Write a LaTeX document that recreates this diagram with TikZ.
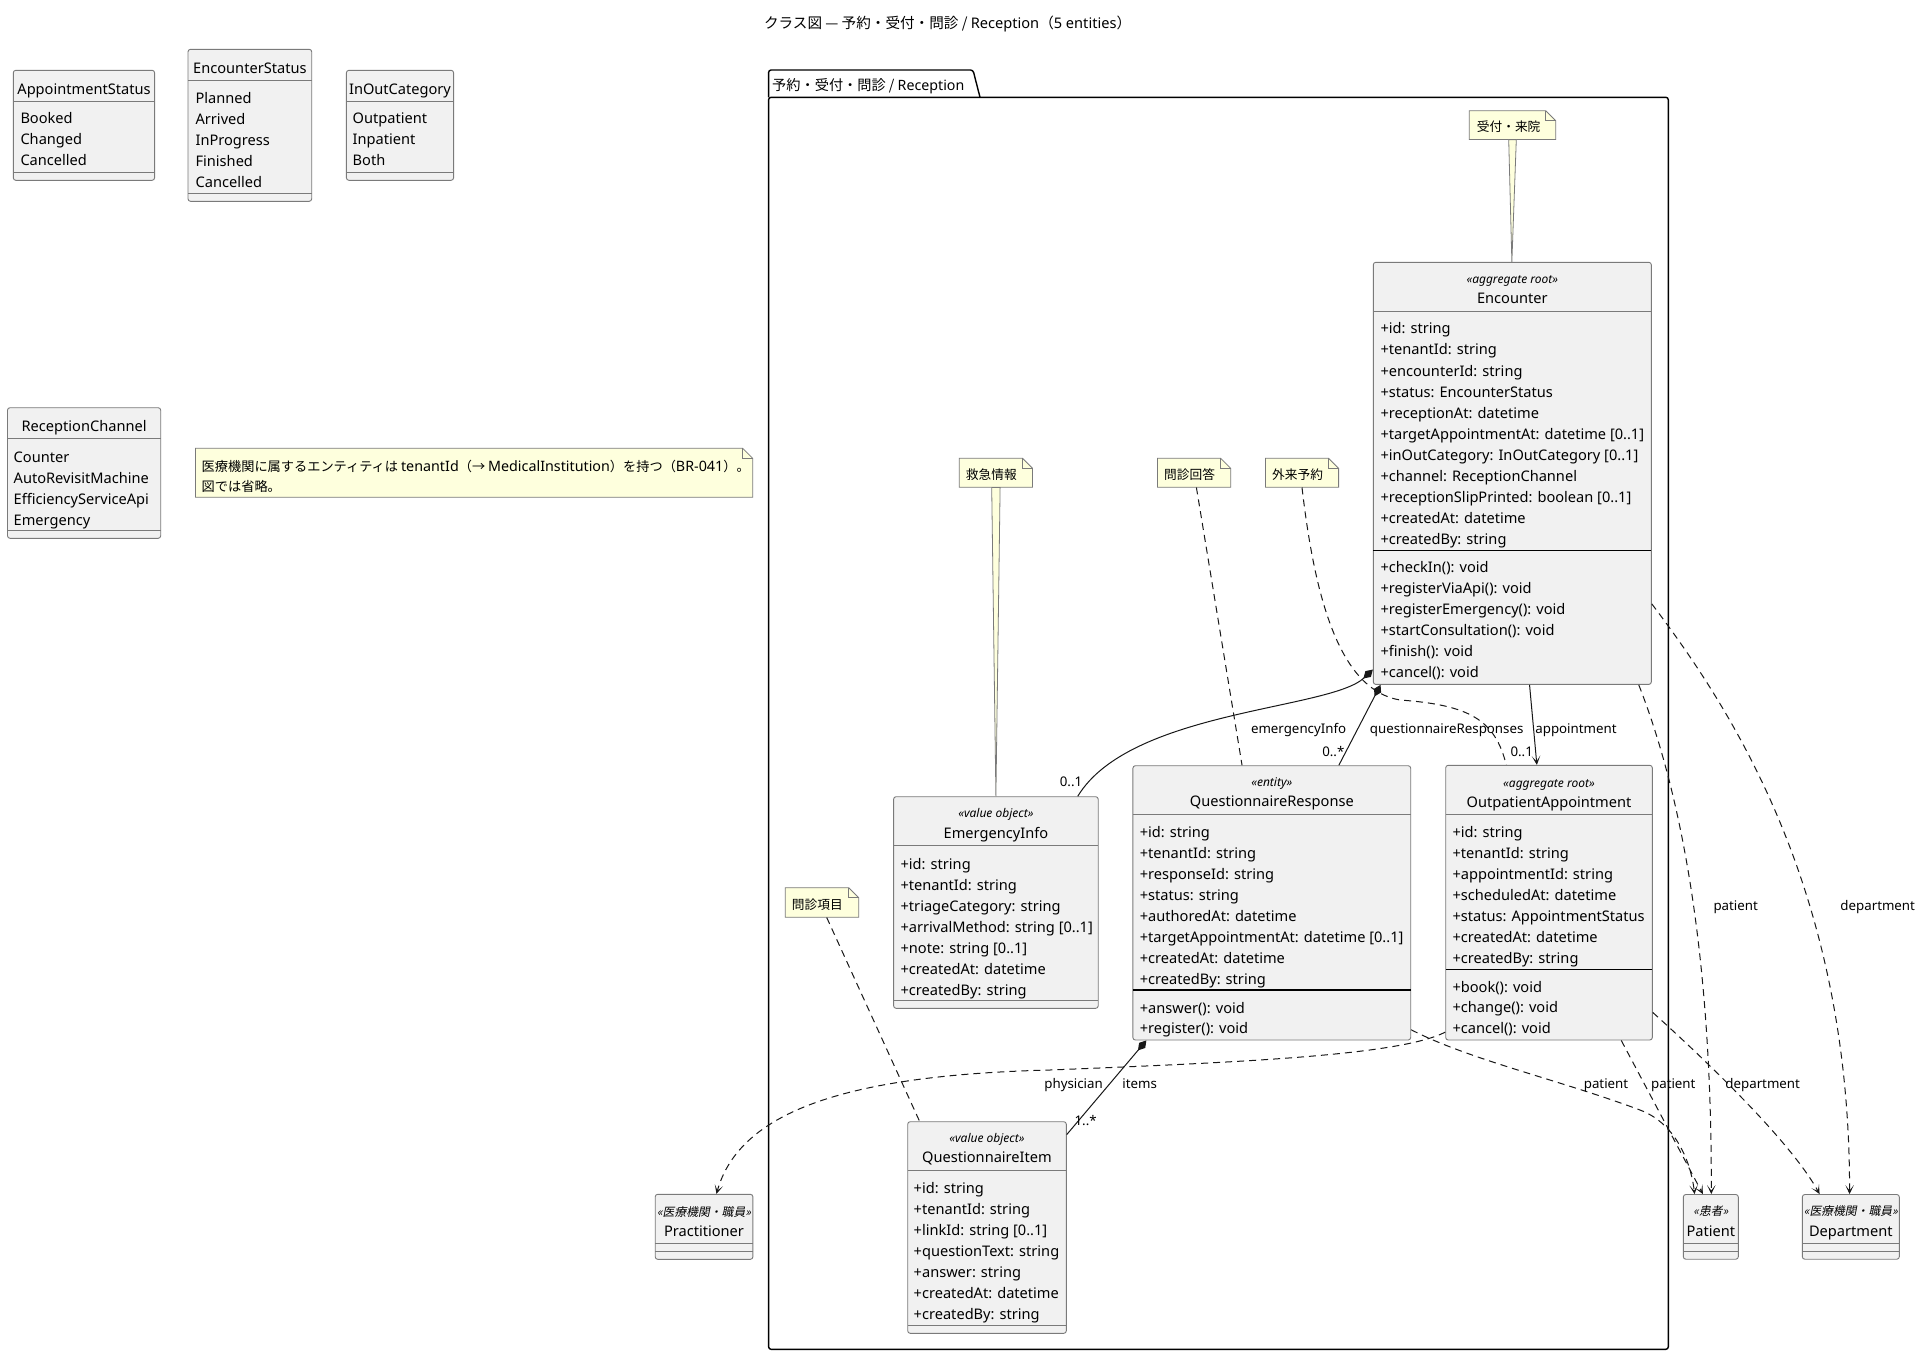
\documentclass[tikz,border=0pt]{standalone}
\usepackage{fontspec}
\setmainfont{Noto Sans}
\newfontfamily\cjk{Noto Sans CJK JP}
\newfontfamily\lat{Noto Sans}
\newfontfamily\cjkit{Noto Sans CJK JP}[FakeSlant=0.2]
\usetikzlibrary{arrows.meta,calc,fit}
\definecolor{clsfill}{HTML}{F1F1F1}
\definecolor{lgray}{HTML}{7A7A7A}
\definecolor{notefill}{HTML}{FEFFDD}
\definecolor{ink}{HTML}{181818}
\tikzset{
  cls/.style={draw=lgray, fill=clsfill, rounded corners=2.5pt, line width=0.9pt, inner sep=0pt},
  hsep/.style={draw=lgray, line width=0.9pt},
  msep/.style={draw=black, line width=1.1pt},
  attr/.style={anchor=west, inner sep=0pt, text height=13pt, text depth=3pt, font=\fontsize{14.6}{17}\selectfont},
  cname/.style={anchor=center, inner sep=0pt, text height=13pt, text depth=3pt, font=\fontsize{14.6}{17}\selectfont},
  stereo/.style={anchor=center, inner sep=0pt, text height=10pt, text depth=2.5pt, font=\fontsize{12}{14}\selectfont\itshape},
  cjkstereo/.style={anchor=center, inner sep=0pt, text height=10pt, text depth=2.5pt, font=\fontsize{11.8}{14}\selectfont\cjkit},
  elabel/.style={anchor=center, inner sep=0pt, text height=12pt, text depth=3pt, font=\fontsize{13.3}{16}\selectfont},
  notetxt/.style={anchor=west, inner sep=0pt, text height=11pt, text depth=2pt, font=\fontsize{12.7}{15}\selectfont\cjk},
  notebox/.style={draw=lgray, fill=notefill, line width=0.8pt},
  conn/.style={draw=ink, line width=1pt},
  dep/.style={conn, dash pattern=on 7pt off 5pt},
  arr/.style={-{Stealth[length=9pt,width=8.5pt,inset=5.5pt]}},
  comp/.style={{Diamond[length=13pt,width=8pt]}-},
}
\newcommand\umlbox[5]{\node[cls, fit={(#2,#3)(#4,#5)}] (#1) {};}
\newcommand\sepline[3]{\draw[hsep] (#1,#3) -- (#2,#3);}
\newcommand\mline[3]{\draw[msep] (#1,#3) -- (#2,#3);}
\newcommand\attrlist[5]{\foreach \itm [count=\i from 0] in {#5} {\node[attr] (#1-\i) at (#2,{#3+\i*#4}) {\itm};}}
\newcommand\umlnote[5]{%
  \node[fit={(#2,#3)(#4,#5)}, inner sep=0pt] (#1) {};
  \draw[notebox] (#2,#3) -- ({#4-10},#3) -- (#4,{#3+10}) -- (#4,#5) -- (#2,#5) -- cycle;
  \draw[notebox, fill=none] ({#4-10},#3) -- ({#4-10},{#3+10}) -- (#4,{#3+10});
}
\newcommand\wlat[1]{{\lat\fontsize{14.3}{15}\selectfont #1}}
\begin{document}
\begin{tikzpicture}[x=1pt,y=-1pt]
\useasboundingbox (0,0) rectangle (1922,1355);
\fill[white] (0,0) rectangle (1922,1355);

% title
\node[font=\fontsize{14.6}{17}\selectfont\cjk, inner sep=0pt] (title) at (947.6,24) {クラス図 — 予約・受付・問診 / {\lat Reception}（{\lat 5 entities}）};

% ---------- enums ----------
\umlbox{apst}{13.3}{70.3}{154.6}{180.3}
\node[cname] (apst-h) at (84,89.3) {AppointmentStatus};
\sepline{13.3}{154.6}{101.7}
\attrlist{apst-a}{20.3}{118}{21}{{Booked},{Changed},{Cancelled}}
\sepline{13.3}{154.6}{172.3}

\umlbox{enst}{188}{49.3}{311.7}{201.3}
\node[cname] (enst-h) at (249.9,68.3) {EncounterStatus};
\sepline{188}{311.7}{80.3}
\attrlist{enst-a}{195.4}{98.3}{21}{{Planned},{Arrived},{InProgress},{Finished},{Cancelled}}
\sepline{188}{311.7}{193.3}

\umlbox{ioc}{346.4}{70.3}{453.6}{180.3}
\node[cname] (ioc-h) at (400,89.3) {InOutCategory};
\sepline{346.4}{453.6}{101.7}
\attrlist{ioc-a}{352.5}{118}{21}{{Outpatient},{Inpatient},{Both}}
\sepline{346.4}{453.6}{172.3}

\umlbox{rch}{7.5}{407.7}{160.7}{538.3}
\node[cname] (rch-h) at (84.1,426.7) {ReceptionChannel};
\sepline{7.5}{160.7}{438.3}
\attrlist{rch-a}{13.5}{457.3}{20.9}{{Counter},{AutoRevisitMachine},{EfficiencyServiceApi},{Emergency}}
\sepline{7.5}{160.7}{530.7}

% tenant note
\umlnote{nT}{195.5}{448.3}{752.7}{497.3}
\node[notetxt, font=\fontsize{13.2}{15}\selectfont\cjk] (nT-1) at (201.5,467.3) {医療機関に属するエンティティは \wlat{tenantId}（→ \wlat{MedicalInstitution}）を持つ（\wlat{BR-041}）。};
\node[notetxt, font=\fontsize{13.2}{15}\selectfont\cjk] (nT-2) at (201.5,487.3) {図では省略。};

% ---------- package ----------
\node[fit={(768.6,70)(1668.3,1349.3)}, inner sep=0pt] (pkg) {};
\draw[line width=1.4pt, rounded corners=2.5pt] (768.6,97.3) -- (768.6,70) -- (973,70) -- (980,97.3);
\draw[line width=1.4pt, rounded corners=2.5pt] (768.6,97.3) rectangle (1668.3,1349.3);
\node[anchor=west, inner sep=0pt, font=\fontsize{14.2}{17}\selectfont\cjk] (pkg-l) at (772,86.5) {予約・受付・問診 / {\lat Reception}};

% ---------- classes ----------
% Encounter
\umlbox{enc}{1373.3}{262.3}{1651.3}{684.4}
\node[stereo] (enc-s) at (1512.3,279.9) {«aggregate root»};
\node[cname] (enc-n) at (1512.3,298.2) {Encounter};
\sepline{1373.3}{1651.3}{311.3}
\attrlist{enc-a}{1380.3}{328.9}{21.05}{{+id: string},{+tenantId: string},{+encounterId: string},{+status: EncounterStatus},{+receptionAt: datetime},{+targetAppointmentAt: datetime [0..1]},{+inOutCategory: InOutCategory [0..1]},{+channel: ReceptionChannel},{+receptionSlipPrinted: boolean [0..1]},{+createdAt: datetime},{+createdBy: string}}
\mline{1373.3}{1651.3}{550.8}
\attrlist{enc-m}{1380.3}{567.7}{21.05}{{+checkIn(): void},{+registerViaApi(): void},{+registerEmergency(): void},{+startConsultation(): void},{+finish(): void},{+cancel(): void}}

% EmergencyInfo
\umlbox{emg}{893.6}{796.7}{1098.2}{1008.3}
\node[stereo] (emg-s) at (995.9,813.3) {«value object»};
\node[cname] (emg-n) at (995.9,833.3) {EmergencyInfo};
\sepline{893.6}{1098.2}{845.7}
\attrlist{emg-a}{900.4}{864.3}{20.95}{{+id: string},{+tenantId: string},{+triageCategory: string},{+arrivalMethod: string [0..1]},{+note: string [0..1]},{+createdAt: datetime},{+createdBy: string}}
\sepline{893.6}{1098.2}{1000.3}

% QuestionnaireResponse
\umlbox{qr}{1132.9}{765.7}{1410.7}{1040}
\node[stereo] (qr-s) at (1271.8,782.7) {«entity»};
\node[cname] (qr-n) at (1271.8,801.7) {QuestionnaireResponse};
\sepline{1132.9}{1410.7}{814}
\attrlist{qr-a}{1139.6}{832}{21}{{+id: string},{+tenantId: string},{+responseId: string},{+status: string},{+authoredAt: datetime},{+targetAppointmentAt: datetime [0..1]},{+createdAt: datetime},{+createdBy: string}}
\mline{1132.9}{1410.7}{990}
\attrlist{qr-m}{1139.6}{1008}{20.7}{{+answer(): void},{+register(): void}}

% OutpatientAppointment
\umlbox{oa}{1445.7}{765.3}{1652.3}{1040}
\node[stereo] (oa-s) at (1549,783.3) {«aggregate root»};
\node[cname] (oa-n) at (1549,802) {OutpatientAppointment};
\sepline{1445.7}{1652.3}{814.7}
\attrlist{oa-a}{1452.3}{832}{21.05}{{+id: string},{+tenantId: string},{+appointmentId: string},{+scheduledAt: datetime},{+status: AppointmentStatus},{+createdAt: datetime},{+createdBy: string}}
\mline{1445.7}{1652.3}{969.3}
\attrlist{oa-m}{1452.3}{987}{20.85}{{+book(): void},{+change(): void},{+cancel(): void}}

% QuestionnaireItem
\umlbox{qi}{907.7}{1121.7}{1066.3}{1333.3}
\node[stereo] (qi-s) at (987,1138.3) {«value object»};
\node[cname] (qi-n) at (987,1157.7) {QuestionnaireItem};
\sepline{907.7}{1066.3}{1170.7}
\attrlist{qi-a}{913.5}{1188}{21}{{+id: string},{+tenantId: string},{+linkId: string [0..1]},{+questionText: string},{+answer: string},{+createdAt: datetime},{+createdBy: string}}
\sepline{907.7}{1066.3}{1325.7}

% external
\umlbox{prac}{655.2}{1194.3}{752.9}{1259.3}
\node[cjkstereo] (prac-s) at (704,1212.3) {«医療機関・職員»};
\node[cname] (prac-n) at (704,1231.7) {Practitioner};
\sepline{655.2}{752.9}{1243.3}
\sepline{655.2}{752.9}{1251.3}

\umlbox{pat}{1683.3}{1194.5}{1738.3}{1259.2}
\node[cjkstereo] (pat-s) at (1710.8,1211.4) {«患者»};
\node[cname] (pat-n) at (1710.8,1231.4) {Patient};
\sepline{1683.3}{1738.3}{1243.5}
\sepline{1683.3}{1738.3}{1251.3}

\umlbox{dept}{1802.3}{1194.5}{1899.3}{1259.2}
\node[cjkstereo] (dept-s) at (1850.8,1211.4) {«医療機関・職員»};
\node[cname] (dept-n) at (1850.8,1231.4) {Department};
\sepline{1802.3}{1899.3}{1243.5}
\sepline{1802.3}{1899.3}{1251.3}

% ---------- notes ----------
\umlnote{nA}{1469.3}{110.7}{1555.7}{139.4}
\node[notetxt] (nA-t) at (1476.7,127) {受付・来院};
\umlnote{nB}{959.3}{458.3}{1032.5}{487.3}
\node[notetxt] (nB-t) at (965.7,475) {救急情報};
\umlnote{nC}{1157.5}{458.3}{1230.7}{487.3}
\node[notetxt] (nC-t) at (1164,475) {問診回答};
\umlnote{nD}{1265.4}{458.3}{1338.6}{487.3}
\node[notetxt] (nD-t) at (1272,475) {外来予約};
\umlnote{nE}{785.3}{887.7}{858.7}{917.3}
\node[notetxt] (nE-t) at (791.7,905) {問診項目};

% note connectors
\filldraw[notebox] ($(nA.south)+(-3.8,0)$) -- ($(nA.south)+(3.8,0)$) -- ($(enc.north west)+(139,0)$) -- cycle;
\filldraw[notebox] ($(nB.south)+(-4.2,0)$) -- ($(nB.south)+(4.2,0)$) -- ($(emg.north)$) -- cycle;
\draw[dep] ($(nC.south)+(2.3,0)$) -- ($(qr.north west)+(109.6,0)$);
\draw[dep] ($(nD.south)$) .. controls (1315,600) and (1340,690) .. (1400,700) .. controls (1470,705) and (1495,720) .. ($(oa.north west)+(61,0)$);
\draw[dep] ($(nE.south)+(4.7,0)$) -- ($(qi.north west)+(12.3,0)$);

% ---------- relations ----------
\draw[conn, comp] ($(enc.north west)+(0,407.7)$) .. controls (1330,710) and (1130,710) .. ($(emg.north west)+(184.6,0)$);
\node[elabel] (l-emg) at (1298.6,728.7) {emergencyInfo};
\node[elabel] (m-emg) at (1071,781.7) {0..1};

\draw[conn, comp] ($(enc.south west)+(7.7,0)$) -- ($(qr.north west)+(206.4,0)$);
\node[elabel] (l-qr) at (1446.7,728.7) {questionnaireResponses};
\node[elabel] (m-qr) at (1333.3,751.7) {0..*};

\draw[conn, arr] ($(enc.south west)+(156.7,0)$) -- ($(oa.north west)+(91.6,0)$);
\node[elabel] (l-oa) at (1576,728.7) {appointment};
\node[elabel] (m-oa) at (1521.7,751.7) {0..1};

\draw[dep, arr] ($(enc.south east)+(-13,0)$) .. controls (1680,790) and (1712,950) .. ($(pat.north west)+(28.4,0)$);
\node[elabel] (l-ep) at (1735.7,906.2) {patient};

\draw[dep, arr] ($(enc.north east)+(0,342)$) .. controls (1740,720) and (1850,900) .. ($(dept.north west)+(47.7,0)$);
\node[elabel] (l-ed) at (1877.7,906.2) {department};

\draw[dep, arr] ($(qr.south east)+(0,-10.7)$) .. controls (1470,1060) and (1560,1080) .. (1640,1110) .. controls (1680,1125) and (1692,1170) .. ($(pat.north west)+(11.7,0)$);
\node[elabel] (l-qp) at (1606,1084.3) {patient};

\draw[dep, arr] ($(oa.south west)+(176,0)$) -- ($(pat.north west)+(20,0)$);
\node[elabel] (l-op) at (1673.3,1084.3) {patient};

\draw[dep, arr] ($(oa.south east)+(0,-28)$) .. controls (1700,1055) and (1790,1140) .. ($(dept.north west)+(17.7,0)$);
\node[elabel] (l-od) at (1762.7,1084.4) {department};

\draw[dep, arr] ($(oa.south west)+(0,-8.3)$) .. controls (1400,1055) and (1250,1062) .. (1050,1070) .. controls (850,1075) and (740,1110) .. ($(prac.north west)+(61.7,0)$);
\node[elabel] (l-ph) at (1073.6,1084.3) {physician};

\draw[conn, comp] ($(qr.south west)+(13.9,0)$) -- ($(qi.north east)+(0,13.3)$);
\node[elabel] (l-it) at (1139.6,1084.3) {items};
\node[elabel] (m-it) at (1085.6,1121) {1..*};
\end{tikzpicture}
\end{document}
